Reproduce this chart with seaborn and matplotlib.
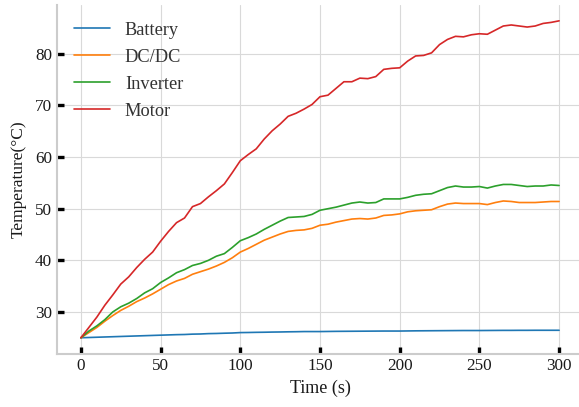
import numpy as np
import pandas as pd
import matplotlib
matplotlib.use("Agg")
import matplotlib.pyplot as plt
import seaborn as sns

time_s = list(range(0, 301, 5))

battery = [25.00, 25.05, 25.10, 25.15, 25.20, 25.25, 25.30, 25.35, 25.40, 25.45,
           25.50, 25.55, 25.60, 25.63, 25.70, 25.73, 25.80, 25.83, 25.88, 25.92,
           26.00, 26.02, 26.05, 26.07, 26.10, 26.12, 26.15, 26.17, 26.20, 26.20,
           26.20, 26.22, 26.24, 26.25, 26.26, 26.27, 26.28, 26.29, 26.30, 26.30,
           26.30, 26.32, 26.34, 26.35, 26.36, 26.37, 26.38, 26.39, 26.40, 26.40,
           26.40, 26.41, 26.42, 26.43, 26.43, 26.44, 26.44, 26.45, 26.45, 26.45,
           26.45]

dcdc = [25.0, 26.0, 27.0, 28.2, 29.3, 30.3, 31.1, 32.0, 32.7, 33.5,
        34.4, 35.3, 36.0, 36.5, 37.3, 37.8, 38.3, 38.9, 39.6, 40.5,
        41.6, 42.3, 43.1, 43.9, 44.5, 45.1, 45.6, 45.8, 45.9, 46.2,
        46.8, 47.0, 47.4, 47.7, 48.0, 48.1, 48.0, 48.2, 48.7, 48.8,
        49.0, 49.4, 49.6, 49.7, 49.8, 50.4, 50.9, 51.1, 51.0, 51.0,
        51.0, 50.8, 51.2, 51.5, 51.4, 51.2, 51.2, 51.2, 51.3, 51.4,
        51.4]

inverter = [25.0, 26.3, 27.3, 28.5, 30.0, 31.0, 31.7, 32.6, 33.7, 34.5,
            35.7, 36.6, 37.6, 38.2, 39.0, 39.4, 40.0, 40.8, 41.3, 42.5,
            43.8, 44.4, 45.1, 46.0, 46.8, 47.6, 48.3, 48.4, 48.5, 48.9,
            49.7, 50.0, 50.3, 50.7, 51.1, 51.3, 51.1, 51.2, 51.9, 51.9,
            51.9, 52.2, 52.6, 52.8, 52.9, 53.5, 54.1, 54.4, 54.2, 54.2,
            54.3, 54.0, 54.4, 54.7, 54.7, 54.5, 54.3, 54.4, 54.4, 54.6,
            54.5]

motor = [25.0, 27.0, 29.0, 31.3, 33.3, 35.4, 36.8, 38.6, 40.2, 41.6,
         43.7, 45.6, 47.3, 48.2, 50.4, 51.0, 52.3, 53.5, 54.8, 57.0,
         59.3, 60.5, 61.6, 63.5, 65.1, 66.4, 67.9, 68.5, 69.3, 70.2,
         71.7, 72.0, 73.3, 74.6, 74.6, 75.3, 75.2, 75.6, 77.0, 77.2,
         77.3, 78.6, 79.6, 79.7, 80.2, 81.8, 82.8, 83.4, 83.3, 83.7,
         83.9, 83.8, 84.6, 85.4, 85.6, 85.4, 85.2, 85.4, 85.9, 86.1,
         86.4]

series_names = ["Battery", "DC/DC", "Inverter", "Motor"]
series_vals = [battery, dcdc, inverter, motor]
colors = ["#1f77b4", "#ff7f0e", "#2ca02c", "#d62728"]

df = pd.concat([pd.DataFrame({"Time (s)": time_s, "Temperature": v, "Component": n})
                for n, v in zip(series_names, series_vals)], ignore_index=True)

sns.set_style("whitegrid", {"xtick.bottom": True, "ytick.left": True,
                            "axes.edgecolor": ".8", "grid.color": ".85"})
plt.rcParams["font.family"] = ["Liberation Serif", "DejaVu Serif"]

fig = plt.figure(figsize=(5.79, 4.07), dpi=100)
ax = fig.add_axes([57 / 579, (407 - 353.6) / 407, (583 - 57) / 579, (353.6 - 5) / 407])

sns.lineplot(data=df, x="Time (s)", y="Temperature", hue="Component",
             hue_order=series_names, palette=colors, linewidth=1.2, ax=ax)

ax.set_xticks([0, 50, 100, 150, 200, 250, 300])
ax.set_yticks([30, 40, 50, 60, 70, 80])
ax.tick_params(axis="both", direction="in", length=5, width=2.4, color="black",
               labelsize=12.3, labelcolor="#1a1a1a")
ax.set_xlabel("Time (s)", fontsize=13, color="#1a1a1a")
ax.set_ylabel("Temperature(°C)", fontsize=12.5, color="#1a1a1a", labelpad=6)
sns.despine(ax=ax)
for s in ["left", "bottom"]:
    ax.spines[s].set_color("#cccccc")
    ax.spines[s].set_linewidth(1.5)

leg = ax.legend(loc="upper left", frameon=False, fontsize=13.2, labelspacing=0.55,
                title=None)
for t in leg.get_texts():
    t.set_color("#333333")

fig.savefig("out.png", dpi=100)
